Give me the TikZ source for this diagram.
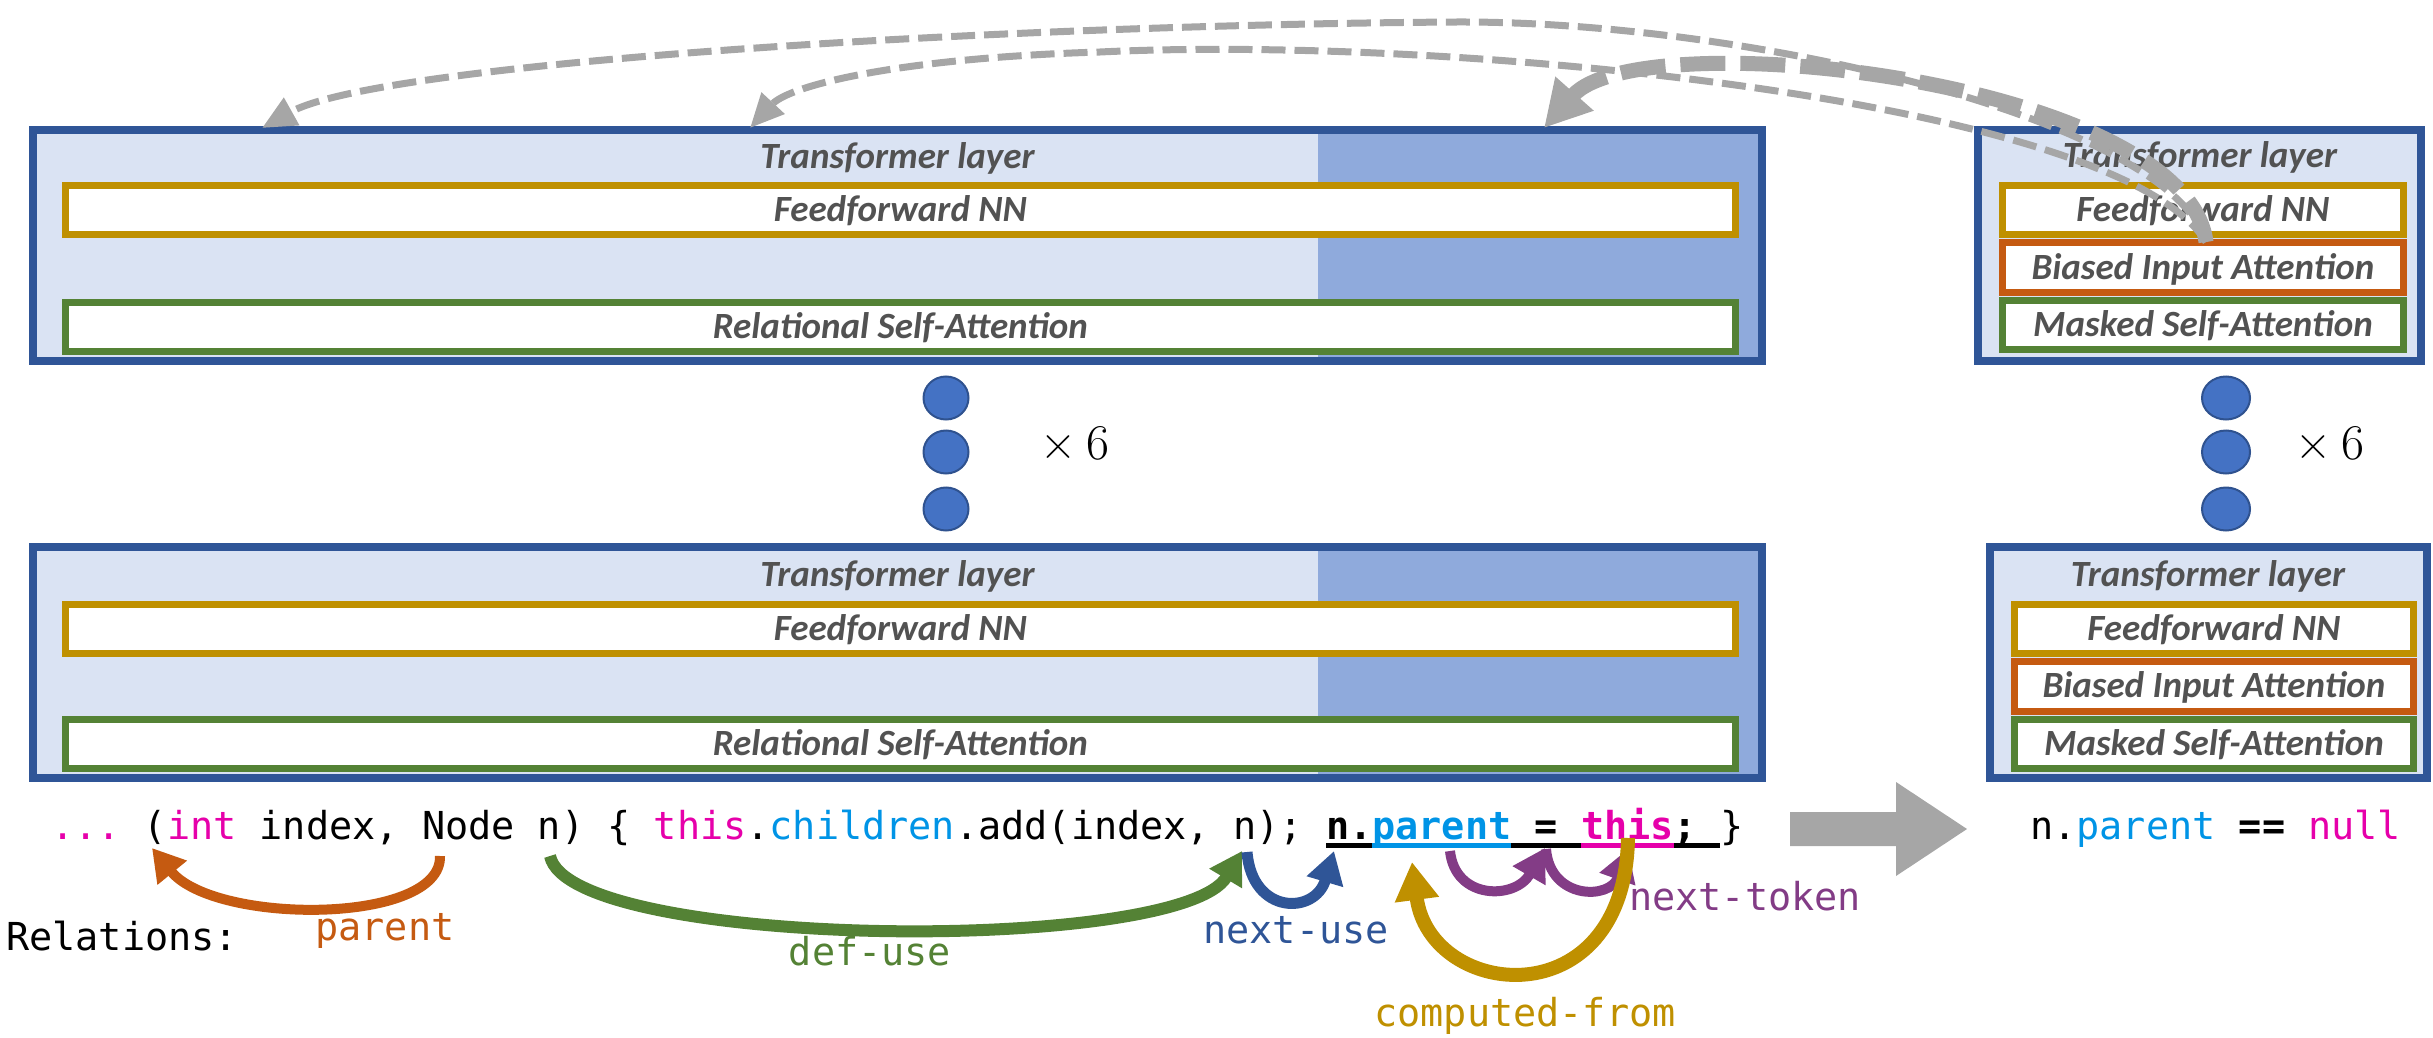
\documentclass[tikz,border=0pt]{standalone}
\usepackage{fontspec}
\setmainfont{Carlito}
\newfontfamily\boxfont{Carlito}
\newfontfamily\codefont{DejaVu Sans Mono}
\newfontfamily\lmfont{Latin Modern Roman}
\usetikzlibrary{arrows.meta,shapes.geometric}

\definecolor{boxblue}{HTML}{2F5597}
\definecolor{lightfill}{HTML}{DAE3F3}
\definecolor{darkfill}{HTML}{8FAADC}
\definecolor{ffgold}{HTML}{BF9000}
\definecolor{attgreen}{HTML}{548235}
\definecolor{biasorange}{HTML}{C55A11}
\definecolor{labelgray}{HTML}{525252}
\definecolor{dotfill}{HTML}{4472C4}
\definecolor{dotdraw}{HTML}{2F528F}
\definecolor{arrowgray}{HTML}{A6A6A6}
\definecolor{codemag}{HTML}{E600AA}
\definecolor{codeblue}{HTML}{0094E6}
\definecolor{tokpurple}{HTML}{833C86}

\begin{document}
\begin{tikzpicture}[x=1pt,y=-1pt,
  layerbox/.style={draw=boxblue, line width=8pt, fill=lightfill, inner sep=0pt, rectangle, minimum height=231pt},
  subbox/.style={draw=#1, line width=7pt, fill=white, inner sep=0pt, rectangle,
     text height=23.8pt, text depth=0pt, minimum height=49pt,
     font=\boxfont\fontsize{37}{44}\selectfont\bfseries\itshape, text=labelgray},
  titletext/.style={inner sep=0pt, text height=23.8pt, text depth=0pt,
     font=\boxfont\fontsize{37}{44}\selectfont\bfseries\itshape, text=labelgray},
  layerdot/.style={ellipse, draw=dotdraw, line width=2pt, fill=dotfill, inner sep=0pt, minimum height=43pt},
  timestext/.style={inner sep=0pt, font=\lmfont\fontsize{50}{60}\selectfont},
  codetext/.style={inner sep=0pt, font=\codefont\fontsize{38.5}{46}\selectfont\frenchspacing},
  relarrow/.style={line width=11pt, -{Triangle[length=32pt,width=36pt]}},
  thinlink/.style={draw=arrowgray, line width=7pt, dash pattern=on 24pt off 9pt,
     -{Triangle[length=34pt,width=30pt]}},
  thicklink/.style={draw=arrowgray, line width=15pt, dash pattern=on 45pt off 15pt,
     -{Triangle[length=46pt,width=48pt]}}
]
\useasboundingbox (0,0) rectangle (2433,1038);

% ---------- left top layer ----------
\node[layerbox, minimum width=1729pt] (tlBox) at (897.5,245.5) {};
\fill[darkfill] (1318,134) rectangle (1758,357);
\node[titletext] (tlTitle) at (897.5,157) {Transformer layer};
\node[subbox=ffgold, minimum width=1670pt] (tlFF) at (900.5,210) {Feedforward NN};
\node[subbox=attgreen, minimum width=1670pt] (tlRSA) at (900.5,327) {Relational Self-Attention};

% ---------- left bottom layer ----------
\node[layerbox, minimum width=1729pt] (blBox) at (897.5,662.5) {};
\fill[darkfill] (1318,551) rectangle (1758,774);
\node[titletext] (blTitle) at (897.5,575) {Transformer layer};
\node[subbox=ffgold, minimum width=1670pt] (blFF) at (900.5,629) {Feedforward NN};
\node[subbox=attgreen, minimum width=1670pt] (blRSA) at (900.5,744) {Relational Self-Attention};

% ---------- right top layer ----------
\node[layerbox, minimum width=443pt] (trBox) at (2199.5,245.5) {};
\node[titletext] (trTitle) at (2200,156) {Transformer layer};
\node[subbox=ffgold, minimum width=401pt] (trFF) at (2203,210) {Feedforward NN};
\node[subbox=biasorange, minimum width=401pt, minimum height=50pt] (trBIA) at (2203,267.5) {Biased Input Attention};
\node[subbox=attgreen, minimum width=401pt] (trMSA) at (2203,325) {Masked Self-Attention};

% ---------- right bottom layer ----------
\node[layerbox, minimum width=437pt] (brBox) at (2208.5,662.5) {};
\node[titletext] (brTitle) at (2208,575) {Transformer layer};
\node[subbox=ffgold, minimum width=399pt] (brFF) at (2214,629) {Feedforward NN};
\node[subbox=biasorange, minimum width=399pt, minimum height=50pt] (brBIA) at (2214,686) {Biased Input Attention};
\node[subbox=attgreen, minimum width=399pt] (brMSA) at (2214,744) {Masked Self-Attention};

% ---------- repetition dots ----------
\node[layerdot, minimum width=45pt] (dL1) at (946,398) {};
\node[layerdot, minimum width=45pt] (dL2) at (946,452) {};
\node[layerdot, minimum width=45pt] (dL3) at (946,509) {};
\node[timestext] (timesL) at (1075,443) {×\hspace{10pt}6};
\node[layerdot, minimum width=48pt] (dR1) at (2226,398) {};
\node[layerdot, minimum width=48pt] (dR2) at (2226,452) {};
\node[layerdot, minimum width=48pt] (dR3) at (2226,509) {};
\node[timestext] (timesR) at (2330,443) {×\hspace{10pt}6};

% ---------- code line ----------
\node[codetext, anchor=base west] (code) at (51,839)
 {\textcolor{codemag}{...} (\textcolor{codemag}{int} index, Node n) \{ \textcolor{codemag}{this}.\textcolor{codeblue}{children}.add(index, n); {\bfseries n.\textcolor{codeblue}{parent} = \textcolor{codemag}{this};} \}};
\fill[black] (1325.9,842.5) rectangle (1372.3,847.5);
\fill[codeblue] (1372.3,842.5) rectangle (1511.4,847.5);
\fill[black] (1511.4,842.5) rectangle (1580.9,847.5);
\fill[codemag] (1580.9,842.5) rectangle (1673.6,847.5);
\fill[black] (1673.6,842.5) rectangle (1720,847.5);

\node[codetext, anchor=base west] (result) at (2030,839)
 {n.\textcolor{codeblue}{parent} {\bfseries ==} \textcolor{codemag}{null}};
\fill[arrowgray] (1790,812) -- (1896,812) -- (1896,782) -- (1967,829) -- (1896,876) -- (1896,846) -- (1790,846) -- cycle;

\node[codetext, anchor=base west] (relations) at (6,950) {Relations:};
\node[codetext, anchor=base, text=biasorange] (lblParent) at (385,940) {parent};
\node[codetext, anchor=base, text=attgreen] (lblDefUse) at (870,965) {def-use};
\node[codetext, anchor=base, text=boxblue] (lblNextUse) at (1296,943) {next-use};
\node[codetext, anchor=base west, text=tokpurple] (lblNextTok) at (1629,910) {next-token};
\node[codetext, anchor=base, text=ffgold] (lblComp) at (1525,1026) {computed-from};

% ---------- relation connectors ----------
\coordinate (pS) at (440,856);   \coordinate (pE) at (152,848);
\coordinate (duS) at (550,856);  \coordinate (duE) at (1242,851);
\coordinate (nuS) at (1247,852); \coordinate (nuE) at (1334,851);
\coordinate (ntAS) at (1450,851); \coordinate (ntAE) at (1545,848);
\coordinate (ntBS) at (1546,849); \coordinate (ntBE) at (1628,849);
\coordinate (cfS) at (1628,838); \coordinate (cfE) at (1412,862);

\draw[relarrow, draw=biasorange, line width=10pt] (pS) .. controls (442,925) and (215,925) .. (pE);
\draw[relarrow, draw=attgreen, line width=12pt] (duS) .. controls (570,950) and (1180,955) .. (duE);
\draw[relarrow, draw=boxblue] (nuS) .. controls (1252,915) and (1315,915) .. (nuE);
\draw[relarrow, draw=tokpurple, line width=10pt] (ntAS) .. controls (1455,900) and (1515,900) .. (ntAE);
\draw[relarrow, draw=tokpurple, line width=10pt] (ntBS) .. controls (1550,900) and (1610,900) .. (ntBE);
\draw[draw=ffgold, line width=14pt, -{Triangle[length=38pt,width=42pt]}] (cfS) .. controls (1625,1020) and (1430,1000) .. (cfE);

% ---------- attention links (dashed) ----------
\coordinate (attS) at (2206,242);
\coordinate (attA) at (262,128);
\coordinate (attB) at (750,128);
\coordinate (attC) at (1544,128);
\draw[thinlink] (attS) .. controls (2170,120) and (1750,21) .. (1457,22)
   .. controls (1000,25) and (380,62) .. (attA);
\draw[thinlink] (attS) .. controls (2120,100) and (1450,35) .. (1100,52)
   .. controls (900,58) and (790,85) .. (attB);
\draw[thicklink] (attS) .. controls (2185,80) and (1640,20) .. (attC);
\end{tikzpicture}
\end{document}
